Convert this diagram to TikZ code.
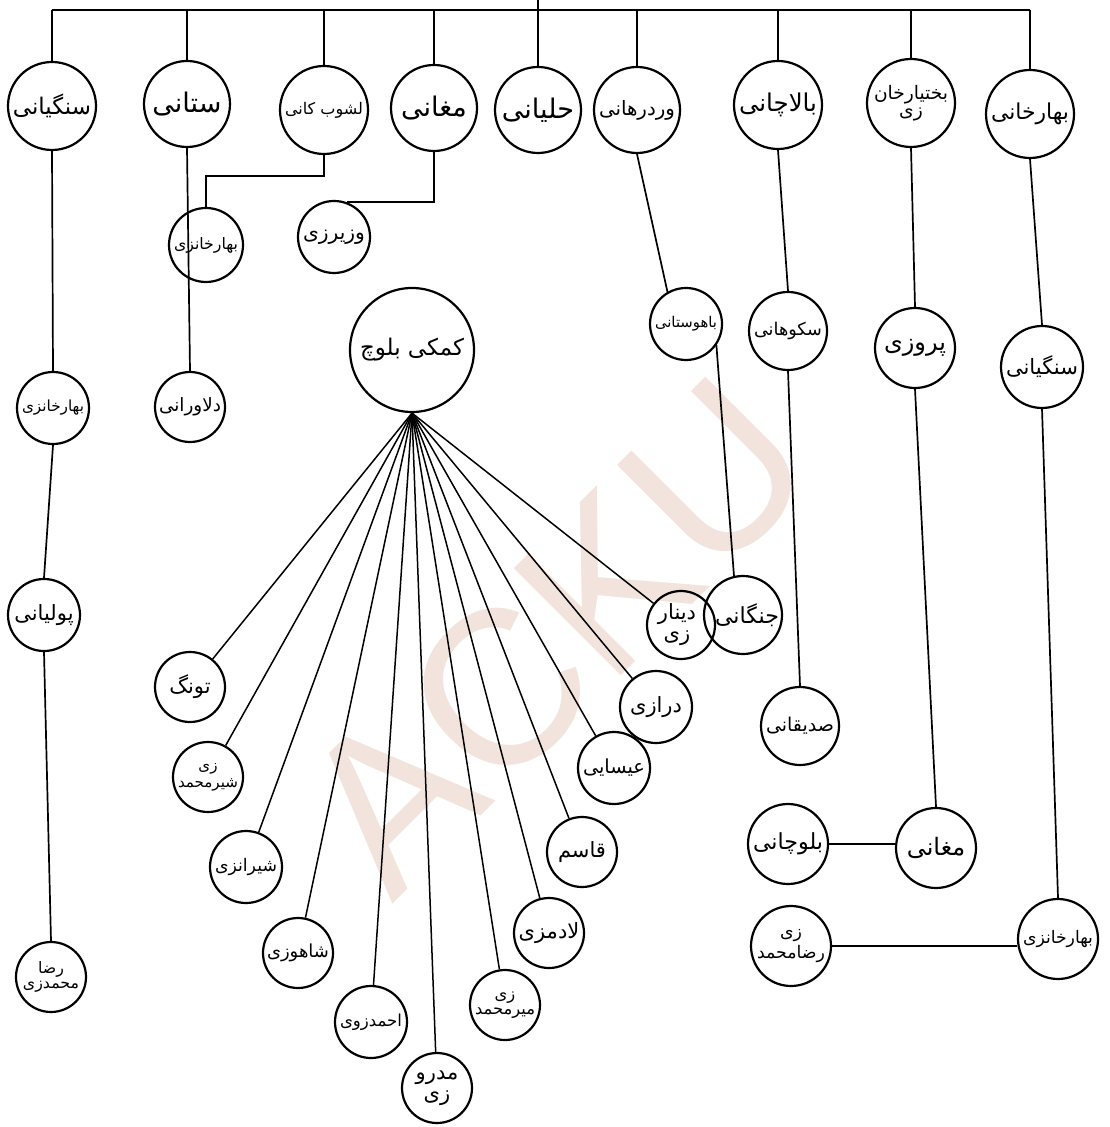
\documentclass[tikz,border=0pt]{standalone}
\usepackage{graphicx}
\usepackage{fontspec}
\setmainfont{Liberation Sans}
\newfontfamily\arabicfont[Script=Arabic]{DejaVu Sans}
\TeXXeTstate=1
\newsavebox\lblbox
\newcommand{\fa}[2]{\sbox\lblbox{\arabicfont #2}\ifdim\wd\lblbox>#1\relax\resizebox{#1}{!}{\usebox\lblbox}\else\usebox\lblbox\fi}
\newcommand{\fb}[3]{\sbox\lblbox{\arabicfont\shortstack{#2\\#3}}\ifdim\wd\lblbox>#1\relax\resizebox{#1}{!}{\usebox\lblbox}\else\usebox\lblbox\fi}
\definecolor{wm}{RGB}{242,228,220}
\tikzset{
  nd/.style={circle,draw,line width=1.1pt,inner sep=0pt,minimum size=#1},
  con/.style={line width=0.85pt},
  tbig/.style={font=\fontsize{13.5}{15}\selectfont,align=center,inner sep=0pt},
  tmid/.style={font=\fontsize{12}{13}\selectfont,align=center,inner sep=0pt},
  tsml/.style={font=\fontsize{10.5}{11.5}\selectfont,align=center,inner sep=0pt},
  tctr/.style={font=\fontsize{17}{19}\selectfont,align=center,inner sep=0pt},
}
\begin{document}
\begin{tikzpicture}[x=0.5pt,y=-0.5pt]
\fill[white] (0,0) rectangle (1109,1127);
\useasboundingbox (0,0) rectangle (1109,1127);
% watermark
\node[font=\fontsize{110}{110}\selectfont,text=wm,rotate=45] (wmk) at (555,635) {ACKU};
% top row
\node[nd=44pt,label={[tbig]center:\fa{39pt}{\beginR سنگیانی\endR}}] (sng) at (52,106) {};
\node[nd=43pt,label={[tbig]center:\fa{38pt}{\beginR ستانی\endR}}] (stn) at (187,104) {};
\node[nd=44pt,label={[tbig]center:\fa{39pt}{\beginR لشوب کانی\endR}}] (lsh) at (324,110) {};
\node[nd=43pt,label={[tbig]center:\fa{38pt}{\beginR مغانی\endR}}] (mgh) at (434,108) {};
\node[nd=43pt,label={[tbig]center:\fa{38pt}{\beginR حلیانی\endR}}] (hly) at (538,110) {};
\node[nd=43pt,label={[tbig]center:\fa{38pt}{\beginR وردرهانی\endR}}] (vrd) at (637,110) {};
\node[nd=44pt,label={[tbig]center:\fa{39pt}{\beginR بالاچانی\endR}}] (blc) at (778,105) {};
\node[nd=44pt,label={[tbig]center:\fb{37pt}{\beginR بختیارخان\endR}{\beginR زی\endR}}] (bkh) at (911,103) {};
\node[nd=44pt,label={[tbig]center:\fa{39pt}{\beginR بهارخانی\endR}}] (bhr) at (1030,114) {};
% bar
\coordinate (bar) at (0,10);
\draw[con] (sng.north |- bar) -- (bhr.north |- bar);
\draw[con] (hly.north |- bar) -- ++(0,-10);
\foreach \n in {sng,stn,lsh,mgh,hly,vrd,blc,bkh,bhr}
  \draw[con] (\n.north) -- (\n.north |- bar);
% second level left
\node[nd=37pt,label={[tsml]center:\fa{32pt}{\beginR بهارخانزی\endR}}] (bhz1) at (206,245) {};
\node[nd=36pt,label={[tsml]center:\fa{31pt}{\beginR وزیرزی\endR}}] (vzr) at (334,237) {};
\node[nd=35pt,label={[tsml]center:\fa{31pt}{\beginR دلاورانی\endR}}] (dlv) at (190,407) {};
\node[nd=36pt,label={[tsml]center:\fa{31pt}{\beginR بهارخانزی\endR}}] (bhz2) at (53,408) {};
\node[nd=36pt,label={[tsml]center:\fa{31pt}{\beginR پولیانی\endR}}] (pol) at (44,615) {};
\node[nd=35pt,label={[tsml]center:\fb{28pt}{\beginR رضا\endR}{\beginR محمدزی\endR}}] (rzm1) at (51,977) {};
\draw[con] (lsh.south) -- ++(0,21) -| (bhz1.north);
\draw[con] (mgh.south) |- (vzr.70);
\draw[con] (stn.south) -- (dlv.north);
\draw[con] (sng.south) -- (bhz2.north);
\draw[con] (bhz2.south) -- (pol.north);
\draw[con] (pol.south) -- (rzm1.north);
% central
\node[nd=62pt,label={[tctr]center:\fa{52pt}{\beginR کمکی بلوچ\endR}}] (kmk) at (412,350) {};
\node[nd=35pt,label={[tsml]center:\fa{30pt}{\beginR تونگ\endR}}] (tng) at (190,687) {};
\node[nd=35pt,label={[tsml]center:\fb{30pt}{\beginR زی\endR}{\beginR شیرمحمد\endR}}] (shm) at (208,777) {};
\node[nd=36pt,label={[tsml]center:\fa{31pt}{\beginR شیرانزی\endR}}] (shz) at (246,867) {};
\node[nd=35pt,label={[tsml]center:\fa{31pt}{\beginR شاهوزی\endR}}] (shh) at (298,953) {};
\node[nd=36pt,label={[tsml]center:\fa{31pt}{\beginR احمدزوی\endR}}] (ahm) at (371,1022) {};
\node[nd=35pt,label={[tsml]center:\fb{30pt}{\beginR مدرو\endR}{\beginR زی\endR}}] (mdr) at (437,1088) {};
\node[nd=35pt,label={[tsml]center:\fb{30pt}{\beginR زی\endR}{\beginR میرمحمد\endR}}] (mir) at (505,1005) {};
\node[nd=35pt,label={[tsml]center:\fa{31pt}{\beginR لادمزی\endR}}] (ldm) at (549,933) {};
\node[nd=35pt,label={[tsml]center:\fa{30pt}{\beginR قاسم\endR}}] (qsm) at (582,852) {};
\node[nd=36pt,label={[tsml]center:\fa{31pt}{\beginR عیسایی\endR}}] (isa) at (614,768) {};
\node[nd=36pt,label={[tsml]center:\fa{31pt}{\beginR درازی\endR}}] (drz) at (656,707) {};
\node[nd=34pt,label={[tsml,xshift=-2pt]center:\fb{24pt}{\beginR دینار\endR}{\beginR زی\endR}}] (dnr) at (681,625) {};
\foreach \n in {tng,shm,shz,shh,ahm,mdr,mir,ldm,qsm,isa,drz,dnr}
  \draw[line width=0.75pt] (kmk.south) -- (\n);
% right side
\node[nd=39pt,label={[tmid,xshift=2pt]center:\fa{32pt}{\beginR جنگانی\endR}}] (jng) at (743,615) {};
\node[nd=36pt,label={[tsml]center:\fa{31pt}{\beginR باهوستانی\endR}}] (bhs) at (686,324) {};
\node[nd=39pt,label={[tmid]center:\fa{34pt}{\beginR سکوهانی\endR}}] (skh) at (788,331) {};
\node[nd=39pt,label={[tmid]center:\fa{34pt}{\beginR صدیقانی\endR}}] (sdq) at (800,726) {};
\node[nd=40pt,label={[tmid]center:\fa{35pt}{\beginR پروزی\endR}}] (prz) at (915,348) {};
\node[nd=41pt,label={[tmid]center:\fa{36pt}{\beginR سنگیانی\endR}}] (sgy) at (1042,367) {};
\node[nd=40pt,label={[tmid]center:\fa{35pt}{\beginR مغانی\endR}}] (mgh2) at (936,848) {};
\node[nd=40pt,label={[tmid]center:\fa{35pt}{\beginR بلوچانی\endR}}] (blc2) at (788,844) {};
\node[nd=40pt,label={[tmid]center:\fa{35pt}{\beginR بهارخانزی\endR}}] (bhz3) at (1058,939) {};
\node[nd=40pt,label={[tmid]center:\fb{34pt}{\beginR زی\endR}{\beginR رضامحمد\endR}}] (rzm2) at (791,946) {};
\draw[con] (vrd.south) -- (bhs.120);
\draw[con] (bhs.-35) -- (jng.103);
\draw[con] (blc.south) -- (skh.north);
\draw[con] (skh.south) -- (sdq.north);
\draw[con] (bkh.south) -- (prz.north);
\draw[con] (bhr.south) -- (sgy.north);
\draw[con] (prz.south) -- (mgh2.north);
\draw[con] (sgy.south) -- (bhz3.north);
\draw[con] (blc2.east) -- (blc2.east -| mgh2.west);
\draw[con] (rzm2.east) -- (rzm2.east -| bhz3.west);
\end{tikzpicture}
\end{document}
